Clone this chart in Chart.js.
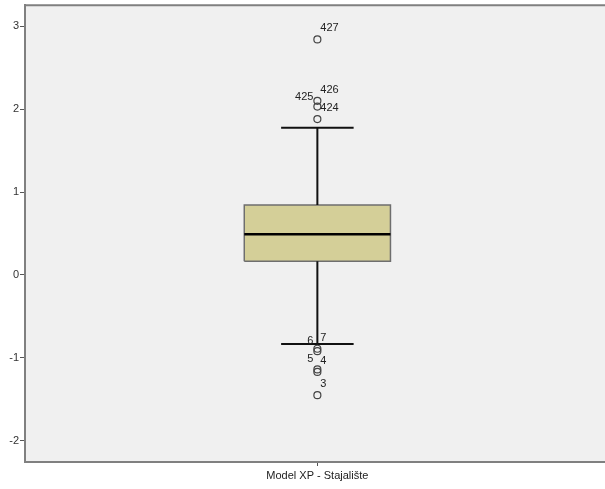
<!DOCTYPE html>
<html>
<head>
<meta charset="utf-8">
<script src="https://cdn.jsdelivr.net/npm/chart.js@4"></script>
<style>
  html, body { margin: 0; padding: 0; background: #fff; }
  #wrap { width: 605px; height: 489px; }
</style>
</head>
<body>
<div id="wrap"><canvas id="c"></canvas></div>
<script>
// box plot values
const category = 'Model XP - Stajalište';
const q1 = 0.165;
const median = 0.49;
const q3 = 0.843;
const whiskerLow = -0.834;
const whiskerHigh = 1.774;
const outlierValues = [2.84, 2.10, 2.03, 1.88, -0.89, -0.92, -1.14, -1.17, -1.45];
const outlierCases = ['427', '426', '425', '424', '7', '6', '5', '4', '3'];
const yTicks = [-2, -1, 0, 1, 2, 3];

// layout
const cx = 0.5;
const boxHalf = 0.125;
const capHalf = 0.062;
const labelLeft = ['425', '6', '5']; // cases whose label sits left of the point

const font = "'Liberation Sans', Arial, sans-serif";

const bgPlugin = {
  id: 'bg',
  beforeDraw(chart) {
    const { ctx, chartArea: a } = chart;
    ctx.save();
    ctx.fillStyle = '#f0f0f0';
    ctx.fillRect(a.left, a.top, chart.width - a.left, a.bottom - a.top);
    ctx.strokeStyle = '#808080';
    ctx.lineWidth = 2;
    ctx.beginPath();
    ctx.moveTo(a.left, a.top);
    ctx.lineTo(chart.width, a.top);
    ctx.moveTo(a.right, a.bottom);
    ctx.lineTo(chart.width, a.bottom);
    ctx.stroke();
    ctx.restore();
  }
};

const labelPlugin = {
  id: 'caseLabels',
  afterDatasetsDraw(chart) {
    const { ctx } = chart;
    const xs = chart.scales.x, ys = chart.scales.y;
    ctx.save();
    ctx.font = '11px ' + font;
    ctx.fillStyle = '#222';
    ctx.textBaseline = 'middle';
    outlierValues.forEach((v, i) => {
      const px = xs.getPixelForValue(cx);
      const py = ys.getPixelForValue(v);
      const name = outlierCases[i];
      if (labelLeft.includes(name)) {
        ctx.textAlign = 'right';
        ctx.fillText(name, px - 4, py - 10);
      } else {
        ctx.textAlign = 'left';
        ctx.fillText(name, px + 3, py - 11);
      }
    });
    ctx.restore();
  }
};

function seg(x0, y0, x1, y1) {
  return [{ x: x0, y: y0 }, { x: x1, y: y1 }];
}

const lineBase = { type: 'line', pointRadius: 0, pointHoverRadius: 0, fill: false, tension: 0, order: 1 };

new Chart(document.getElementById('c'), {
  type: 'line',
  data: {
    datasets: [
      // box fill (drawn first, under everything)
      Object.assign({}, lineBase, {
        data: seg(cx - boxHalf, q3, cx + boxHalf, q3),
        borderWidth: 0, borderColor: 'rgba(0,0,0,0)',
        backgroundColor: '#d4cf98', fill: '+1', order: 10
      }),
      Object.assign({}, lineBase, {
        data: seg(cx - boxHalf, q1, cx + boxHalf, q1),
        borderWidth: 0, borderColor: 'rgba(0,0,0,0)', order: 10
      }),
      // box outline
      Object.assign({}, lineBase, {
        data: [
          { x: cx - boxHalf, y: q1 }, { x: cx - boxHalf, y: q3 },
          { x: cx + boxHalf, y: q3 }, { x: cx + boxHalf, y: q1 },
          { x: cx - boxHalf, y: q1 }
        ],
        borderWidth: 1.5, borderColor: '#6e6e6e', order: 5
      }),
      // median
      Object.assign({}, lineBase, {
        data: seg(cx - boxHalf, median, cx + boxHalf, median),
        borderWidth: 2.5, borderColor: '#000'
      }),
      // whiskers
      Object.assign({}, lineBase, {
        data: seg(cx, q3, cx, whiskerHigh), borderWidth: 2, borderColor: '#111'
      }),
      Object.assign({}, lineBase, {
        data: seg(cx, q1, cx, whiskerLow), borderWidth: 2, borderColor: '#111'
      }),
      Object.assign({}, lineBase, {
        data: seg(cx - capHalf, whiskerHigh, cx + capHalf, whiskerHigh), borderWidth: 2, borderColor: '#111'
      }),
      Object.assign({}, lineBase, {
        data: seg(cx - capHalf, whiskerLow, cx + capHalf, whiskerLow), borderWidth: 2, borderColor: '#111'
      }),
      // outliers
      {
        type: 'scatter',
        order: 0,
        data: outlierValues.map(v => ({ x: cx, y: v })),
        pointStyle: 'circle',
        pointRadius: 3.5,
        pointBorderWidth: 1.2,
        pointBorderColor: '#444',
        pointBackgroundColor: 'rgba(0,0,0,0)'
      }
    ]
  },
  options: {
    responsive: true,
    maintainAspectRatio: false,
    animation: false,
    events: [],
    layout: { padding: { top: 1, right: 0, left: 0, bottom: 0 } },
    plugins: { legend: { display: false }, tooltip: { enabled: false } },
    scales: {
      x: {
        type: 'linear',
        min: 0,
        max: 0.983,
        afterBuildTicks(axis) { axis.ticks = [{ value: cx }]; },
        afterFit(axis) { axis.height = 27; axis.paddingLeft = 0; axis.paddingRight = 0; },
        grid: { drawOnChartArea: false, tickLength: 4, color: '#555', tickWidth: 1 },
        border: { color: '#808080', width: 2 },
        ticks: {
          padding: 3,
          color: '#222',
          font: { family: font, size: 11 },
          callback: () => category
        }
      },
      y: {
        type: 'linear',
        min: -2.256,
        max: 3.253,
        afterBuildTicks(axis) { axis.ticks = yTicks.map(v => ({ value: v })); },
        afterFit(axis) { axis.width = 25; axis.paddingTop = 0; axis.paddingBottom = 0; },
        grid: { drawOnChartArea: false, tickLength: 5, color: '#555', tickWidth: 1 },
        border: { color: '#808080', width: 2 },
        ticks: {
          padding: 1,
          color: '#333',
          font: { family: font, size: 11 }
        }
      }
    }
  },
  plugins: [bgPlugin, labelPlugin]
});
</script>
</body>
</html>
